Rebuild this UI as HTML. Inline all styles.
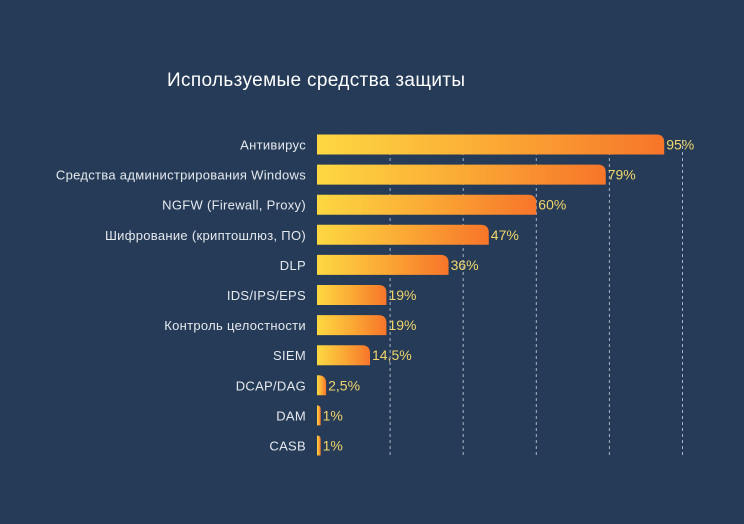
<!DOCTYPE html>
<html><head><meta charset="utf-8"><style>
html,body{margin:0;padding:0;background:#253b57;}
svg{display:block;font-family:"Liberation Sans","DejaVu Sans",sans-serif;}
</style></head><body>
<svg width="744" height="524" viewBox="0 0 744 524">
<defs>
<linearGradient id="g" x1="0" x2="1" y1="0" y2="0">
<stop offset="0" stop-color="#fdd842"/><stop offset="0.5" stop-color="#fbaa35"/><stop offset="1" stop-color="#f7752a"/>
</linearGradient>
</defs>
<rect width="744" height="524" fill="#253b57"/>
<text x="167" y="86" fill="#ffffff" font-size="19" textLength="298">Используемые средства защиты</text>
<g id="grid"></g><g id="bars"></g>
</svg>
<script>
const categories=["Антивирус","Средства администрирования Windows","NGFW (Firewall, Proxy)","Шифрование (криптошлюз, ПО)","DLP","IDS/IPS/EPS","Контроль целостности","SIEM","DCAP/DAG","DAM","CASB"];
const values=[95,79,60,47,36,19,19,14.5,2.5,1,1];
const valueLabels=["95%","79%","60%","47%","36%","19%","19%","14,5%","2,5%","1%","1%"];
const gridTicks=[20,40,60,80,100];
const NS="http://www.w3.org/2000/svg";
const x0=317,scale=3.655,top0=134.5,step=30.1,bh=20;
const xs=v=>x0+v*scale;
const ys=i=>top0+i*step;
const grid=document.getElementById('grid'),bars=document.getElementById('bars');
gridTicks.forEach(t=>{
 const l=document.createElementNS(NS,'line');
 l.setAttribute('x1',xs(t));l.setAttribute('x2',xs(t));l.setAttribute('y1',140);l.setAttribute('y2',457);
 l.setAttribute('stroke','#aab4c4');l.setAttribute('stroke-width','1');l.setAttribute('stroke-dasharray','3,3');
 
 
 grid.appendChild(l);
});
categories.forEach((c,i)=>{
 const y=ys(i),w=values[i]*scale,r=Math.min(8,w);
 const p=document.createElementNS(NS,'path');
 p.setAttribute('d',`M${x0},${y+bh} L${x0},${y} L${x0+w-r},${y} Q${x0+w},${y} ${x0+w},${y+r} L${x0+w},${y+bh} Z`);
 p.setAttribute('fill','url(#g)');
 
 
 bars.appendChild(p);
 const t=document.createElementNS(NS,'text');
 t.setAttribute('x',306);t.setAttribute('y',y+bh/2+5);t.setAttribute('text-anchor','end');
 t.setAttribute('fill','#e6e9ee');t.setAttribute('font-size','13');t.setAttribute('letter-spacing','0.3');t.textContent=c;
 
 
 bars.appendChild(t);
 const v=document.createElementNS(NS,'text');
 v.setAttribute('x',xs(values[i])+2);v.setAttribute('y',y+bh/2+5);
 v.setAttribute('fill','#f2d66a');v.setAttribute('font-size','14');v.textContent=valueLabels[i];
 
 
 bars.appendChild(v);
});
</script>
</body></html>
